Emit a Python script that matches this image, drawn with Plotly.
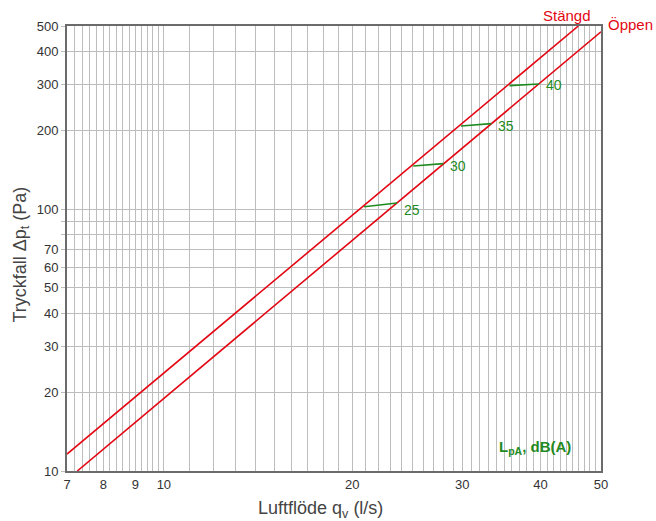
import numpy as np
import plotly.graph_objects as go

# Pressure drop curves
stangd_q = [7.0, 46.0]
stangd_dp = [11.6, 500.0]
oppen_q = [7.27, 50.0]
oppen_dp = [10.0, 475.0]

# Sound level segments (dB(A)) between the two curves
lpa_labels = ["25", "30", "35", "40"]
lpa_q_left = [20.9, 25.05, 29.86, 35.7]
lpa_dp_left = [102.1, 146.1, 207.6, 295.9]
lpa_q_right = [23.6, 27.98, 33.4, 39.8]
lpa_dp_right = [105.5, 149.1, 211.9, 300.4]

# Axis ticks / grid
x_grid = [7, 7.2, 7.4, 7.6, 7.8, 8, 8.2, 8.4, 8.6, 8.8, 9, 9.2, 9.4, 9.6, 9.8, 10,
          11, 12, 13, 14, 15, 16, 17, 18, 19, 20, 21, 22, 23, 24, 25, 26, 27, 28, 29, 30,
          31, 32, 33, 34, 35, 36, 37, 38, 39, 40, 41, 42, 43, 44, 45, 46, 47, 48, 49, 50]
x_labeled = [7, 8, 9, 10, 20, 30, 40, 50]
y_grid = [10, 20, 30, 40, 50, 60, 70, 80, 90, 100, 200, 300, 400, 500]
y_labeled = [10, 20, 30, 40, 50, 60, 70, 100, 200, 300, 400, 500]

RED = "#e30613"
GREEN = "#1f8a1f"
FONT = "Liberation Sans, Arial, sans-serif"
label_yshift = [-7, -2, -2, -1]

fig = go.Figure()
fig.add_trace(go.Scatter(x=stangd_q, y=stangd_dp, mode="lines",
                         line=dict(color=RED, width=1.6), showlegend=False, hoverinfo="skip"))
fig.add_trace(go.Scatter(x=oppen_q, y=oppen_dp, mode="lines",
                         line=dict(color=RED, width=1.6), showlegend=False, hoverinfo="skip"))
for i in range(len(lpa_labels)):
    fig.add_trace(go.Scatter(x=[lpa_q_left[i], lpa_q_right[i]], y=[lpa_dp_left[i], lpa_dp_right[i]],
                             mode="lines", line=dict(color=GREEN, width=1.6),
                             showlegend=False, hoverinfo="skip"))
    fig.add_annotation(x=np.log10(lpa_q_right[i]), y=np.log10(lpa_dp_right[i]), text=lpa_labels[i],
                       showarrow=False, xanchor="left", yanchor="middle", xshift=5,
                       yshift=label_yshift[i],
                       font=dict(family=FONT, size=14, color=GREEN))

fig.add_annotation(xref="paper", yref="paper", x=0.936, y=1.0, text="Stängd", showarrow=False,
                   xanchor="center", yanchor="bottom", yshift=0,
                   font=dict(family=FONT, size=15, color=RED))
fig.add_annotation(xref="paper", yref="paper", x=1.0, y=1.0, text="Öppen", showarrow=False,
                   xanchor="left", yanchor="middle", xshift=5, yshift=2,
                   font=dict(family=FONT, size=15, color=RED))
fig.add_annotation(xref="paper", yref="paper", x=0.876, y=0.053, text="<b>L<sub>pA</sub>, dB(A)</b>",
                   showarrow=False, xanchor="center", yanchor="middle",
                   font=dict(family=FONT, size=15, color=GREEN))

# Axis titles
fig.add_annotation(xref="paper", yref="paper", x=0.4738, y=-0.0876,
                   text="Luftflöde q<sub>v</sub> (l/s)", showarrow=False,
                   xanchor="center", yanchor="middle",
                   font=dict(family=FONT, size=18, color="#444444"))
fig.add_annotation(xref="paper", yref="paper", x=-0.0861, y=0.4865, textangle=-90,
                   text="Tryckfall Δp<sub>t</sub> (Pa)", showarrow=False,
                   xanchor="center", yanchor="middle",
                   font=dict(family=FONT, size=18, color="#444444"))

x_text = [str(v) if v in x_labeled else "" for v in x_grid]
y_text = [str(v) if v in y_labeled else "" for v in y_grid]

fig.update_xaxes(type="log", range=[np.log10(7), np.log10(50)], automargin=False,
                 tickmode="array", tickvals=x_grid, ticktext=x_text,
                 showgrid=True, gridcolor="#bdbdbd", gridwidth=1,
                 showline=True, linecolor="#6b6b6b", linewidth=2, mirror=True,
                 ticks="", tickfont=dict(family=FONT, size=13, color="#333333"),
                 zeroline=False)
fig.update_yaxes(type="log", range=[1, np.log10(500)], automargin=False,
                 tickmode="array", tickvals=y_grid, ticktext=y_text,
                 showgrid=True, gridcolor="#bdbdbd", gridwidth=1,
                 showline=True, linecolor="#6b6b6b", linewidth=2, mirror=True,
                 ticks="outside", ticklen=4, tickcolor="#bdbdbd",
                 tickfont=dict(family=FONT, size=13, color="#333333"),
                 zeroline=False)

fig.update_layout(width=656, height=521, margin=dict(l=67, r=55, t=26, b=50, autoexpand=False),
                  plot_bgcolor="white", paper_bgcolor="white", showlegend=False)

fig.write_html("out.html", config={"displayModeBar": False},
               post_script="document.body.style.margin='0';document.body.style.overflow='hidden';")
